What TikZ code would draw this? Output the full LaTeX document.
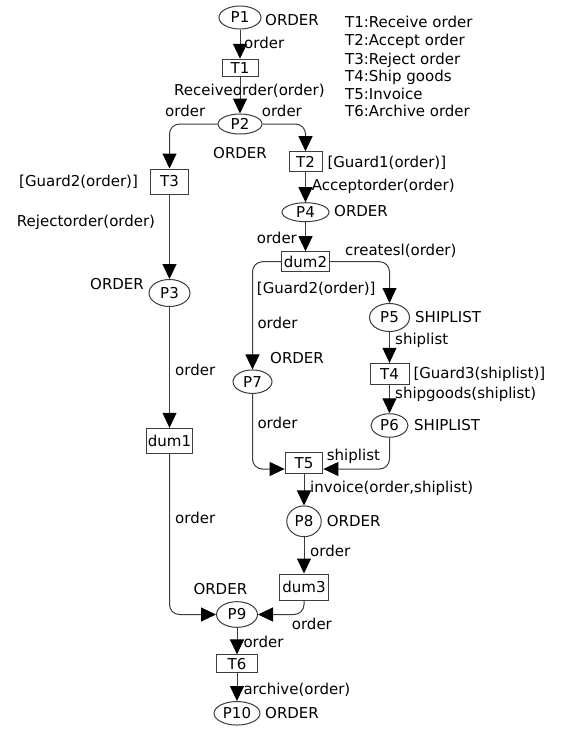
\documentclass[tikz,border=0pt]{standalone}
\usepackage{fontspec}
\setmainfont{DejaVu Sans}
\usetikzlibrary{arrows.meta,shapes.geometric}
\definecolor{linec}{RGB}{60,60,60}
\begin{document}
\begin{tikzpicture}[x=1pt,y=-1pt,
  font=\fontsize{15}{18}\selectfont,
  place/.style={ellipse,draw=linec,line width=1pt,inner sep=0pt},
  trans/.style={rectangle,draw=linec,line width=1pt,inner sep=0pt},
  lbl/.style={anchor=west,inner sep=0pt,text height=12pt,text depth=2pt},
  flow/.style={draw=linec,line width=1pt,-{Triangle[length=15pt,width=14pt,color=black]},rounded corners=10pt},
]
\useasboundingbox (0,0) rectangle (561,729);

% places and transitions
\node[place,minimum width=42pt,minimum height=23pt] (P1) at (240,17.5) {P1};
\node[trans,minimum width=36pt,minimum height=17.5pt] (T1) at (240,68) {T1};
\node[place,minimum width=44pt,minimum height=20pt] (P2) at (240,124) {P2};
\node[trans,minimum width=38.5pt,minimum height=25pt] (T3) at (169.5,181.5) {T3};
\node[trans,minimum width=33pt,minimum height=20pt] (T2) at (305.5,161.7) {T2};
\node[place,minimum width=47pt,minimum height=19pt] (P4) at (305.5,212.2) {P4};
\node[place,minimum width=41pt,minimum height=27pt] (P3) at (169.5,293) {P3};
\node[trans,minimum width=47.5pt,minimum height=20pt] (dum2) at (305.5,261.7) {dum2};
\node[place,minimum width=40pt,minimum height=28pt] (P5) at (389.5,317.5) {P5};
\node[trans,minimum width=39pt,minimum height=20.7pt] (T4) at (389.5,373.7) {T4};
\node[place,minimum width=37pt,minimum height=23.5pt] (P6) at (389.5,425.5) {P6};
\node[place,minimum width=39pt,minimum height=23.5pt] (P7) at (252.5,381.7) {P7};
\node[trans,minimum width=46.7pt,minimum height=25pt] (dum1) at (169.5,440.8) {dum1};
\node[trans,minimum width=37.7pt,minimum height=20.7pt] (T5) at (304,463) {T5};
\node[place,minimum width=34.5pt,minimum height=30.7pt] (P8) at (304,521.3) {P8};
\node[trans,minimum width=49.7pt,minimum height=26pt] (dum3) at (304,587) {dum3};
\node[place,minimum width=41pt,minimum height=25.7pt] (P9) at (237,614.5) {P9};
\node[trans,minimum width=41.3pt,minimum height=17.7pt] (T6) at (237,663.8) {T6};
\node[place,minimum width=46pt,minimum height=23.5pt] (P10) at (237,713.3) {P10};

% arcs
\draw[flow] (P1) -- (T1);
\draw[flow] (T1) -- (P2);
\draw[flow] (P2.west) -| (T3.north);
\draw[flow] (P2.east) -| (T2.north);
\draw[flow] (T2) -- (P4);
\draw[flow] (T3) -- (P3);
\draw[flow] (P3) -- (dum1);
\draw[flow] (P4) -- (dum2);
\draw[flow] (dum2.east) -| (P5.north);
\draw[flow] (dum2.west) -| (P7.north);
\draw[flow] (P5) -- (T4);
\draw[flow] (T4) -- (P6);
\draw[flow] (P7.south) |- ([yshift=-6pt]T5.west);
\draw[flow] (P6.south) |- ([yshift=-6pt]T5.east);
\draw[flow] (T5) -- (P8);
\draw[flow] (P8) -- (dum3);
\draw[flow] (dum1.south) |- (P9.west);
\draw[flow] (dum3.south) |- (P9.east);
\draw[flow] (P9) -- (T6);
\draw[flow] (T6) -- (P10);

% labels
\node[lbl] (l1) at (265,20) {ORDER};
\node[lbl] (l2) at (244,43.3) {order};
\node[lbl] (l3) at (174,90) {Receiveorder(order)};
\node[lbl] (l4) at (165,111.7) {order};
\node[lbl] (l5) at (261.7,111.7) {order};
\node[lbl] (l6) at (213,153.3) {ORDER};
\node[lbl] (l7) at (19,181.7) {[Guard2(order)]};
\node[lbl] (l8) at (327.3,162.7) {[Guard1(order)]};
\node[lbl] (l9) at (311.7,185) {Acceptorder(order)};
\node[lbl] (l10) at (334,211.7) {ORDER};
\node[lbl] (l11) at (16.7,221.7) {Rejectorder(order)};
\node[lbl] (l12) at (256.7,238.3) {order};
\node[lbl] (l13) at (345,250) {createsl(order)};
\node[lbl] (l14) at (256.7,288.3) {[Guard2(order)]};
\node[lbl] (l15) at (90,284) {ORDER};
\node[lbl] (l16) at (415,317.3) {SHIPLIST};
\node[lbl] (l17) at (257.3,323.3) {order};
\node[lbl] (l18) at (395,339.3) {shiplist};
\node[lbl] (l19) at (270,358.3) {ORDER};
\node[lbl] (l20) at (175,370) {order};
\node[lbl] (l21) at (413.3,373.3) {[Guard3(shiplist)]};
\node[lbl] (l22) at (395,393.3) {shipgoods(shiplist)};
\node[lbl] (l23) at (414,425) {SHIPLIST};
\node[lbl] (l24) at (257.3,423.3) {order};
\node[lbl] (l25) at (326.7,455) {shiplist};
\node[lbl] (l26) at (310,487.3) {invoice(order,shiplist)};
\node[lbl] (l27) at (175,518.3) {order};
\node[lbl] (l28) at (326.7,521.7) {ORDER};
\node[lbl] (l29) at (310,551.7) {order};
\node[lbl] (l30) at (193.3,589.3) {ORDER};
\node[lbl] (l31) at (291.7,624) {order};
\node[lbl] (l32) at (243.3,642.7) {order};
\node[lbl] (l33) at (243.3,689.3) {archive(order)};
\node[lbl] (l34) at (265,713.3) {ORDER};

% legend
\node[lbl] (g1) at (345,22.7) {T1:Receive order};
\node[lbl] (g2) at (345,40.7) {T2:Accept order};
\node[lbl] (g3) at (345,59.3) {T3:Reject order};
\node[lbl] (g4) at (345,76) {T4:Ship goods};
\node[lbl] (g5) at (345,94) {T5:Invoice};
\node[lbl] (g6) at (345,111) {T6:Archive order};
\end{tikzpicture}
\end{document}
